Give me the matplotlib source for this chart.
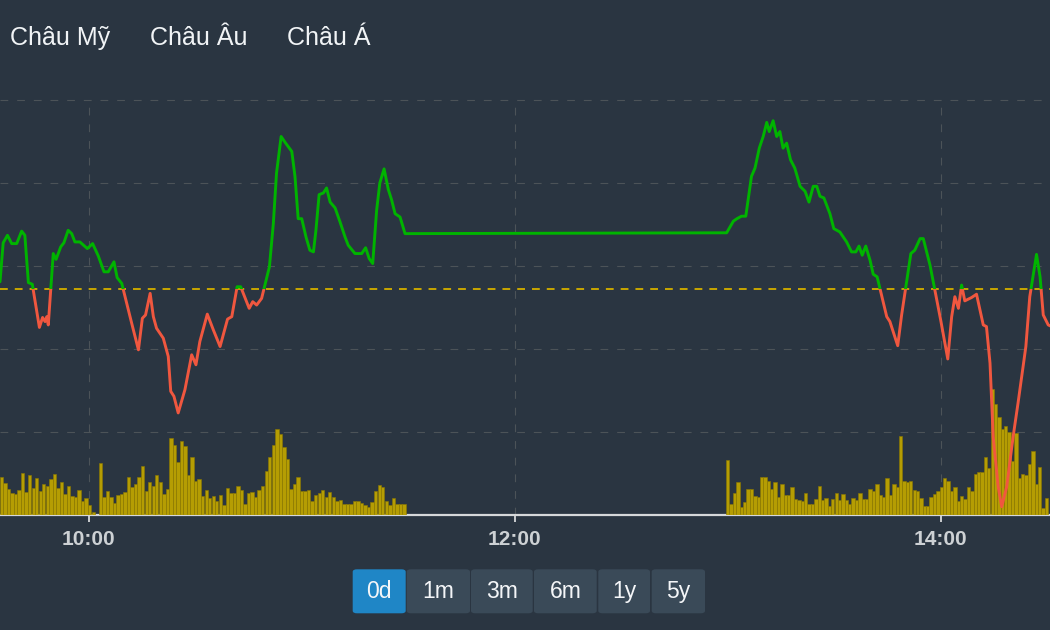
import matplotlib
matplotlib.use("Agg")
import matplotlib.pyplot as plt
import numpy as np
from matplotlib.patches import Rectangle, FancyBboxPatch

plt.rcParams['font.family'] = ['Liberation Sans', 'DejaVu Sans']

BG = '#2a3541'
W, H = 1050, 630

# price line: time in minutes since midnight, value in index points
line_t = [575.0, 575.9, 577.1, 578.3, 579.7, 581.1, 582.0, 583.0, 584.1, 586.1,
          587.0, 587.7, 588.2, 588.6, 590.0, 590.8, 592.1, 593.0, 594.2, 595.2,
          596.1, 597.5, 599.6, 601.1, 602.7, 604.3, 605.5, 607.1, 608.0, 609.3,
          612.1, 614.0, 615.1, 616.0, 617.3, 618.2, 619.1, 621.0, 622.4, 623.1,
          624.0, 625.2, 627.1, 629.0, 630.2, 631.3, 633.4, 635.1, 637.0, 639.1,
          640.3, 641.8, 642.8, 644.0, 645.2, 646.2, 647.3, 648.7, 650.9, 652.0,
          652.9, 654.2, 655.3, 657.2, 658.1, 659.0, 660.0, 661.2, 662.3, 663.3,
          664.0, 664.9, 666.1, 667.0, 668.0, 669.4, 670.8, 672.2, 673.1, 675.0,
          676.9, 678.0, 679.0, 680.0, 681.1, 682.0, 683.2, 684.4, 685.3, 686.3,
          687.7, 689.1,
          779.7, 781.6, 782.6, 783.9, 785.1, 786.7, 787.7, 788.9, 790.0, 791.0,
          791.7, 792.8, 793.8, 794.7, 795.6, 796.6, 797.7, 798.9, 800.4, 801.8,
          802.9, 804.1, 805.1, 806.0, 807.1, 808.8, 809.9, 811.6, 813.5, 814.9,
          816.1, 817.0, 817.9, 818.9, 820.1, 821.0, 822.1, 824.8, 825.7, 827.9,
          829.0, 831.6, 832.7, 834.2, 835.1, 837.0, 840.0, 842.0, 843.1, 844.0,
          845.0, 845.9, 846.8, 848.7, 850.1, 852.0, 852.9, 853.9, 854.8, 856.2,
          857.2, 858.6, 860.4, 861.8, 863.1, 864.0, 865.1, 867.0, 868.0, 868.9,
          870.3, 871.3]
line_v = [28.1, 32.8, 33.7, 32.7, 32.7, 34.2, 33.7, 28.0, 27.8, 22.6,
          23.8, 23.3, 23.9, 22.9, 31.5, 30.8, 32.3, 32.8, 34.3, 33.9,
          32.9, 32.9, 32.1, 32.7, 31.2, 29.3, 29.3, 30.5, 28.6, 27.9,
          23.1, 19.9, 23.7, 24.1, 26.7, 23.9, 22.5, 21.3, 19.1, 14.9,
          14.3, 12.3, 15.1, 19.3, 18.1, 20.9, 24.2, 22.3, 20.3, 23.6,
          23.9, 27.5, 27.5, 26.2, 24.9, 25.7, 25.3, 26.1, 29.9, 35.1,
          41.2, 45.6, 44.9, 43.8, 40.8, 35.7, 35.7, 33.5, 31.9, 31.7,
          34.3, 38.6, 38.8, 39.4, 37.7, 37.0, 35.3, 33.5, 32.5, 31.5,
          31.5, 32.2, 30.9, 30.3, 36.7, 40.0, 41.7, 39.2, 38.0, 36.3,
          35.9, 33.9,
          34.0, 35.4, 35.7, 36.0, 36.0, 40.8, 41.8, 44.2, 45.6, 47.3,
          46.2, 47.5, 45.6, 46.2, 44.2, 44.8, 42.8, 41.8, 39.6, 39.0,
          37.7, 39.6, 39.6, 38.4, 38.2, 36.3, 34.5, 34.1, 32.9, 31.7,
          31.7, 32.4, 31.3, 32.4, 30.7, 29.0, 28.7, 23.9, 23.3, 20.4,
          24.1, 31.5, 31.9, 33.3, 33.3, 30.1, 23.5, 18.8, 23.9, 26.3,
          24.9, 27.7, 25.8, 26.2, 26.6, 22.9, 22.7, 18.3, 9.4, 3.4,
          1.0, 3.4, 9.4, 13.5, 17.5, 20.3, 26.3, 31.4, 28.7, 24.1,
          22.9, 22.7]
ref_value = 27.2

# volume per bar, morning and afternoon sessions
am_vol = [38, 32, 26, 22, 21, 25, 42, 23, 40, 27,
          37, 24, 31, 29, 36, 41, 27, 33, 21, 29,
          19, 18, 25, 14, 17, 10, 3, 0, 52, 18,
          24, 18, 12, 20, 21, 23, 38, 28, 31, 38,
          49, 24, 33, 29, 40, 33, 21, 26, 77, 70,
          53, 74, 69, 40, 58, 34, 36, 19, 25, 17,
          19, 14, 20, 10, 27, 22, 22, 29, 25, 11,
          22, 23, 18, 25, 29, 44, 58, 70, 86, 81,
          68, 56, 26, 31, 38, 24, 24, 25, 14, 20,
          22, 25, 18, 23, 18, 14, 15, 11, 11, 11,
          14, 14, 12, 10, 8, 13, 24, 30, 28, 14,
          10, 17, 11, 11, 11]
pm_vol = [55, 11, 22, 33, 8, 13, 26, 26, 19, 18,
          38, 38, 34, 26, 33, 18, 31, 20, 20, 28,
          16, 15, 14, 22, 11, 11, 16, 29, 15, 17,
          9, 16, 22, 15, 21, 15, 11, 17, 15, 22,
          16, 16, 26, 24, 31, 20, 18, 37, 20, 31,
          28, 79, 34, 33, 34, 25, 24, 17, 9, 9,
          18, 21, 24, 28, 37, 34,
          24, 28, 14, 19, 16, 28, 24, 41, 43, 43,
          58, 47, 126, 111, 98, 86, 89, 83, 54, 82,
          37, 41, 40, 51, 64, 31, 48, 7, 17]
am_span = (575.4, 688.8)
pm_span = (780.0, 869.8)

tick_t = [600, 720, 840]
tick_labels = ['10:00', '12:00', '14:00']
tabs = ['Châu Mỹ', 'Châu Âu', 'Châu Á']
ranges = ['0d', '1m', '3m', '6m', '1y', '5y']


def fx(x):
    return x / W


def fy(y):
    return 1 - y / H


fig = plt.figure(figsize=(10.5, 6.3), dpi=100, facecolor=BG)
pos = [0, fy(515), 1, (515 - 99) / H]

ax = fig.add_axes(pos)
ax.set_facecolor(BG)
ax.set_xlim(575.0, 870.8)
ax.set_ylim(0, 50.12)
ax.set_yticks([10, 20, 30, 40, 50])
ax.set_xticks(tick_t, tick_labels)
ax.grid(True, color='#4c5358', lw=0.8, ls=(0, (7, 8)))
for s in ['top', 'left', 'right']:
    ax.spines[s].set_visible(False)
ax.spines['bottom'].set_color('#d6d8da')
ax.spines['bottom'].set_linewidth(1.6)
ax.tick_params(axis='y', length=0, labelleft=False)
ax.tick_params(axis='x', colors='#d6d8da', length=5, width=1.3, pad=6,
               labelsize=15, labelcolor='#cdd1d4')
for lbl in ax.get_xticklabels():
    lbl.set_fontweight('bold')

# volume bars
ax_vol = ax.twinx()
ax_vol.set_ylim(0, 416)
ax_vol.set_axis_off()
am_t = np.linspace(am_span[0], am_span[1], len(am_vol))
pm_t = np.linspace(pm_span[0], pm_span[1], len(pm_vol))
for t, v in [(am_t, am_vol), (pm_t, pm_vol)]:
    ax_vol.bar(t, v, width=0.95, color='#b59d03', edgecolor='#8c7900', linewidth=0.4)

# price line on top
ax_px = ax.twinx()
ax_px.set_ylim(ax.get_ylim())
ax_px.set_axis_off()
ax_px.axhline(ref_value, color='#c9a700', lw=1.4, ls=(0, (4, 3.6)), zorder=1)

x0, x1 = ax.get_xlim()
clips = [('#00b400', Rectangle((x0, ref_value), x1 - x0, 100, transform=ax_px.transData)),
         ('#f0573f', Rectangle((x0, -100), x1 - x0, ref_value + 100, transform=ax_px.transData))]
for color, clip in clips:
    ln, = ax_px.plot(line_t, line_v, color=color, lw=2.1, zorder=3,
                     solid_joinstyle='round', solid_capstyle='round')
    ln.set_clip_path(clip)

ax.set_zorder(1)
ax_vol.set_zorder(2)
ax_px.set_zorder(3)

# region tabs
for label, x in zip(tabs, [10, 150, 287]):
    fig.text(fx(x), fy(45), label, fontsize=18, color='#f1f4f6', va='baseline', ha='left')

# range buttons
btn_x = [(352.7, 405.7), (406.7, 470.0), (471.0, 532.7), (534.0, 596.7), (598.3, 650.0), (651.7, 705.0)]
for i, (label, (bx0, bx1)) in enumerate(zip(ranges, btn_x)):
    face = '#1f86c6' if i == 0 else '#3a4a58'
    box = FancyBboxPatch((fx(bx0), fy(613.3)), fx(bx1 - bx0), (613.3 - 569.3) / H,
                         boxstyle='round,pad=0,rounding_size=0.004',
                         transform=fig.transFigure, facecolor=face, edgecolor='none')
    fig.patches.append(box)
    fig.text(fx((bx0 + bx1) / 2), fy(591.5), label, fontsize=16.5, color='#f4f6f8',
             ha='center', va='center')

fig.savefig('out.png', dpi=100, facecolor=BG)
